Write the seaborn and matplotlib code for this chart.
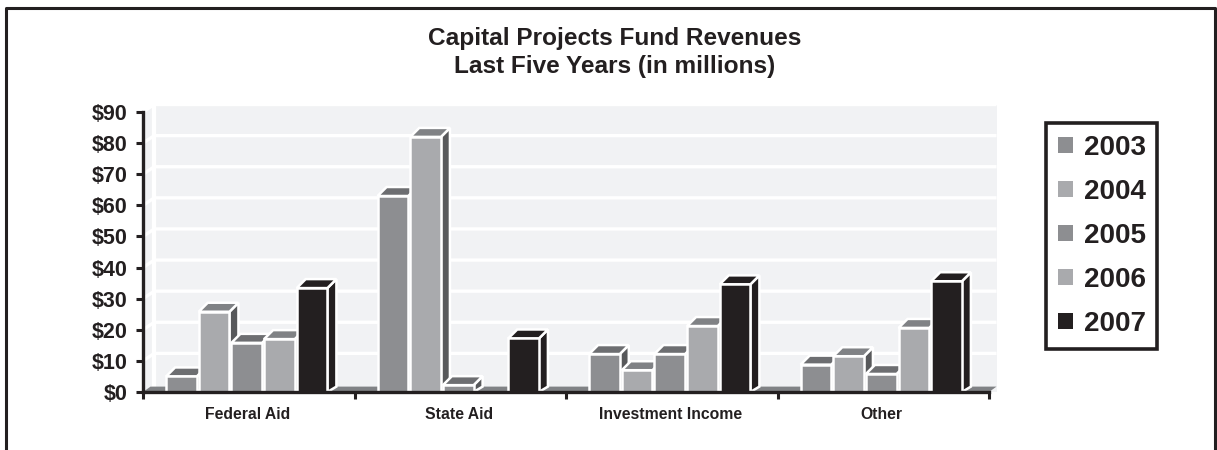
import pandas as pd
import matplotlib
matplotlib.use("Agg")
import matplotlib.pyplot as plt
from matplotlib.lines import Line2D
from matplotlib.patches import Polygon, Rectangle
import seaborn as sns

categories = ["Federal Aid", "State Aid", "Investment Income", "Other"]
years = ["2003", "2004", "2005", "2006", "2007"]
values_2003 = [5, 63, 12.2, 8.8]
values_2004 = [25.8, 82, 7, 11.5]
values_2005 = [15.8, 2.2, 12.2, 5.8]
values_2006 = [17, 0, 21.2, 20.6]
values_2007 = [33.4, 17.2, 34.6, 35.6]
y_ticks = [0, 10, 20, 30, 40, 50, 60, 70, 80, 90]

front_colors = ["#8d8e91", "#a9aaad", "#8d8e91", "#a9aaad", "#231f20"]
top_colors = ["#6d6e71", "#808285", "#6d6e71", "#808285", "#231f20"]
side_colors = ["#58595b", "#58595b", "#58595b", "#58595b", "#231f20"]
INK = "#231f20"
WALL = "#f1f2f4"
FLOOR = "#808285"

W, H = 1217, 450
LEFT, RIGHT, TOP, BOTTOM = 143, 989, 112, 392
DEPTH_PX = 7.5
BAR_DEPTH_PX = 9

sns.set_theme(style="white")
plt.rcParams["font.family"] = ["Liberation Sans", "DejaVu Sans"]
plt.rcParams["font.weight"] = "bold"

df = pd.DataFrame({"category": categories, "2003": values_2003, "2004": values_2004,
                   "2005": values_2005, "2006": values_2006, "2007": values_2007})
df = df.melt(id_vars="category", var_name="year", value_name="revenue")

fig = plt.figure(figsize=(W / 100, H / 100), dpi=100)
ax = fig.add_axes([LEFT / W, 1 - BOTTOM / H, (RIGHT - LEFT) / W, (BOTTOM - TOP) / H])
ax.patch.set_alpha(0)

sns.barplot(data=df, x="category", y="revenue", hue="year", order=categories, hue_order=years,
            palette=front_colors, width=0.772, gap=0.06, ax=ax, saturation=1,
            edgecolor="white", linewidth=0)
ax.set_xlim(-0.5, 3.5)
ax.set_ylim(0, 90)

# pixel depth converted to data units
px_x = 4 / (RIGHT - LEFT)
px_y = 90 / (BOTTOM - TOP)
dx, dy = DEPTH_PX * px_x, DEPTH_PX * px_y
bar_dx, bar_dy = BAR_DEPTH_PX * px_x, BAR_DEPTH_PX * px_y
x0, x1 = -0.5, 3.5
corner = x0 + 1.5 * dx

# side wall, back wall, gridlines, floor
ax.add_patch(Polygon([(x0, 0), (corner, dy), (corner, 90 + dy), (x0, 90)], fc=WALL, ec="none",
                     zorder=0.5, clip_on=False))
ax.add_patch(Rectangle((corner, 0), x1 + dx - corner, 90 + dy, fc=WALL, ec="none",
                       zorder=0.5, clip_on=False))
for t in y_ticks[1:]:
    ax.plot([x0, corner, x1 + dx], [t, t + dy, t + dy], color="white", lw=2.4,
            zorder=0.7, clip_on=False, solid_capstyle="butt")
ax.plot([corner, corner], [0, 90 + dy], color="white", lw=3, zorder=0.7, clip_on=False)
floor_dy = dy * 0.72
ax.add_patch(Polygon([(x0, 0), (x0 + dx, floor_dy), (x1 + dx, floor_dy), (x1, 0)],
                     fc=FLOOR, ec="none", zorder=0.9, clip_on=False))

# fake 3D: top and side faces from the bars seaborn drew
bars = [p for c in ax.containers for p in c]
bars_sorted = sorted(bars, key=lambda p: p.get_x())
for container, top_c, side_c in zip(ax.containers, top_colors, side_colors):
    for bar in container:
        h = bar.get_height()
        if h <= 0:
            bar.set_visible(False)
            continue
        z = 2 + bars_sorted.index(bar)
        bar.set_x(bar.get_x() - 2 * px_x)
        x, w = bar.get_x(), bar.get_width()
        bar.set_zorder(z + 0.5)
        bar.set_edgecolor("white")
        bar.set_linewidth(1.8)
        bar.set_clip_on(False)
        ax.add_patch(Polygon([(x, h), (x + bar_dx, h + bar_dy), (x + w + bar_dx, h + bar_dy), (x + w, h)],
                             fc=top_c, ec="white", lw=1.8, zorder=z + 0.2, clip_on=False))
        ax.add_patch(Polygon([(x + w, 0), (x + w + bar_dx, floor_dy), (x + w + bar_dx, h + bar_dy), (x + w, h)],
                             fc=side_c, ec="white", lw=1.8, zorder=z + 0.1, clip_on=False))

# axes
for side in ["top", "right"]:
    ax.spines[side].set_visible(False)
for side in ["left", "bottom"]:
    ax.spines[side].set_color(INK)
    ax.spines[side].set_linewidth(2.4)
    ax.spines[side].set_zorder(100)
ax.set_yticks(y_ticks)
ax.set_yticklabels([f"${t}" for t in y_ticks], fontsize=15.5, color=INK, fontweight="bold")
ax.set_xticks([-0.5, 0.5, 1.5, 2.5, 3.5])
ax.set_xticklabels([])
label_shift = 1.5 * px_x
ax.set_xticks([i - label_shift for i in range(4)], labels=categories, minor=True)
ax.tick_params(axis="x", which="minor", length=0, labelsize=11.3, labelcolor=INK, pad=10.5)
ax.tick_params(axis="x", which="major", length=5, width=2.2, color=INK, bottom=True)
ax.tick_params(axis="y", length=5, width=2.2, color=INK, left=True, pad=6)
ax.set_xlabel("")
ax.set_ylabel("")

# legend
handles, labels = ax.get_legend_handles_labels()
for handle in handles:
    handle.set_linewidth(0)
leg = ax.legend(handles, labels, loc="upper left", bbox_to_anchor=(1046 / W, 1 - 123 / H),
                bbox_transform=fig.transFigure, fontsize=20, frameon=True, fancybox=False,
                handlelength=0.54, handleheight=0.54, handletextpad=0.4, labelspacing=0.65,
                borderpad=0.42, borderaxespad=0, title=None)
leg.get_frame().set_edgecolor(INK)
leg.get_frame().set_facecolor("white")
leg.get_frame().set_linewidth(2.6)
leg.get_frame().set_alpha(1)
for text in leg.get_texts():
    text.set_color(INK)
    text.set_fontweight("bold")

# titles and outer frame
fig.text(615 / W, 1 - 38.5 / H, "Capital Projects Fund Revenues", ha="center", va="center",
         fontsize=17.6, fontweight="bold", color=INK)
fig.text(615 / W, 1 - 67 / H, "Last Five Years (in millions)", ha="center", va="center",
         fontsize=17.6, fontweight="bold", color=INK)
frame_x = [5.5 / W, 5.5 / W, 1215 / W, 1215 / W]
frame_y = [0, 1 - 7.5 / H, 1 - 7.5 / H, 0]
fig.add_artist(Line2D(frame_x, frame_y, color=INK, lw=2.2, transform=fig.transFigure))

plt.savefig("out.png", dpi=100)
plt.close()
